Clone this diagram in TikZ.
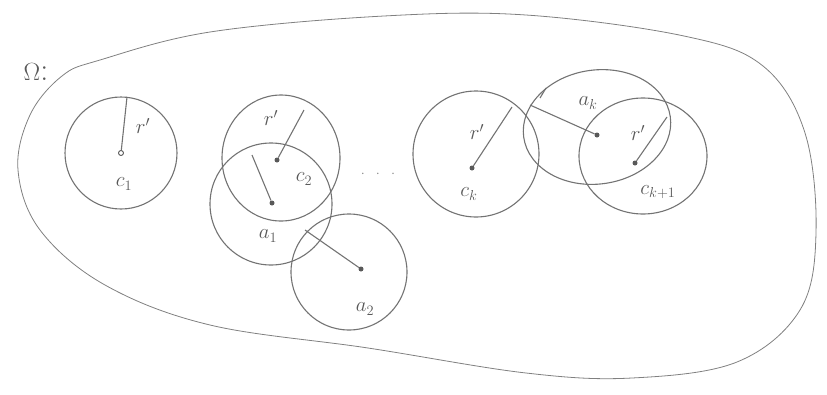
\documentclass[tikz,border=0pt]{standalone}
\begin{document}
\begin{tikzpicture}[x=1pt,y=-1pt,
  pencil/.style={draw=black!55, line width=1.1pt},
  thin pencil/.style={draw=black!50, line width=0.8pt},
  dotc/.style={circle, fill=black!65, inner sep=0pt, minimum size=5pt},
  hollowdot/.style={circle, draw=black!65, line width=0.9pt, inner sep=0pt, minimum size=5pt},
  lab/.style={text=black!65, font=\huge, inner sep=1pt}]
\useasboundingbox (0,0) rectangle (827,394);
% outer region
\draw[thin pencil] plot[smooth cycle, tension=0.6] coordinates {
  (100,60) (210,32) (384,16) (526,15) (684,36) (763,66) (805,133) (816,233)
  (800,310) (737,362) (632,378) (526,373) (368,348) (210,325) (105,285)
  (40,230) (18,170) (30,115) (62,76)};
\node[lab, font=\fontsize{32}{34}\selectfont] (omega) at (36,72) {$\Omega$:};
% circle c1
\node[hollowdot] (c1) at (121,153) {};
\draw[pencil] (121,153) circle (56);
\coordinate (c1r) at (127,97);
\draw[pencil] (c1) -- (c1r);
\node[lab] (r1) at (143,126) {$r'$};
\node[lab] (lc1) at (124,184) {$c_1$};
% circle c2
\node[dotc] (c2) at (277,160) {};
\draw[pencil] (281,158) ellipse (59 and 63);
\coordinate (c2r) at (304,110);
\draw[pencil] (c2) -- (c2r);
\node[lab] (r2) at (271,118) {$r'$};
\node[lab] (lc2) at (304,179) {$c_2$};
% circle a1
\node[dotc] (a1) at (272,203) {};
\draw[pencil] (271,204) circle (61);
\coordinate (a1r) at (252,155);
\draw[pencil] (a1) -- (a1r);
\node[lab] (la1) at (268,236) {$a_1$};
% circle a2
\node[dotc] (a2) at (361,269) {};
\draw[pencil] (349,272) circle (58);
\coordinate (a2r) at (305,230);
\draw[pencil] (a2) -- (a2r);
\node[lab] (la2) at (365,309) {$a_2$};
% dots
\node[text=black!45, font=\Large] (dots) at (378,174) {$\cdot\;\;\cdot\;\;\cdot$};
% circle ck
\node[dotc] (ck) at (472,168) {};
\draw[pencil] (476,154) circle (63);
\coordinate (ckr) at (512,107);
\draw[pencil] (ck) -- (ckr);
\node[lab] (rk) at (477,132) {$r'$};
\node[lab] (lck) at (469,194) {$c_k$};
% circle ak
\node[dotc] (ak) at (597,135) {};
\draw[pencil, rotate around={8:(597,127)}] (597,127) ellipse (74 and 57);
\coordinate (akr) at (530,105);
\draw[pencil] (ak) -- (akr);
\draw[pencil] (540,98) -- (546,88);
\node[lab] (lak) at (588,103) {$a_k$};
% circle ck+1
\node[dotc] (ck1) at (635,163) {};
\draw[pencil] (643,156) ellipse (64 and 58);
\coordinate (ck1r) at (667,117);
\draw[pencil] (ck1) -- (ck1r);
\node[lab] (rk1) at (638,133) {$r'$};
\node[lab] (lck1) at (658,192) {$c_{k+1}$};
\end{tikzpicture}
\end{document}
